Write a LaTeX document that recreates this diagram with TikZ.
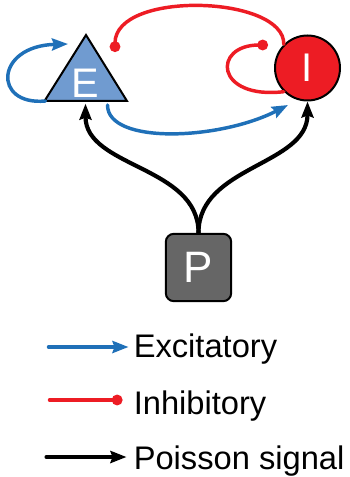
\documentclass[tikz,border=0pt]{standalone}
\usepackage{fontspec}
\setmainfont{Liberation Sans}
\usepackage{tikz}
\usetikzlibrary{arrows.meta}
\usepackage{xcolor}
\definecolor{excblue}{HTML}{1F70B8}
\definecolor{popblue}{HTML}{709BD0}
\definecolor{inhred}{HTML}{ED1C24}
\definecolor{boxgray}{HTML}{666666}

\begin{document}
\begin{tikzpicture}[x=0.75pt,y=-0.75pt,line cap=round,
  >={Stealth[length=12pt,width=9pt,inset=1.5pt]},
  excite/.style={excblue,line width=2.6pt},
  inhib/.style={inhred,line width=2.6pt,-{Circle[length=8pt]}},
  poisson/.style={black,line width=3.1pt},
  legend/.style={inner sep=0pt,font=\fontsize{24.5}{28}\selectfont}]
\useasboundingbox (0,0) rectangle (349,477);
% excitatory population: triangle corners
\coordinate (Etop) at (86,35);
\coordinate (Eleft) at (44.5,101);
\coordinate (Eright) at (127,101);
\coordinate (Ebase) at (85.5,101);
\draw[line width=1.5pt,line join=miter,fill=popblue] (Etop) -- (Eleft) -- (Eright) -- cycle;
\node[text=white,inner sep=0pt,font=\fontsize{31}{31}\selectfont] (E) at (85,83) {E};
% inhibitory population and input
\node[circle,draw,line width=1.5pt,fill=inhred,minimum size=48.75pt,inner sep=0pt,
  text=white,font=\fontsize{30}{30}\selectfont] (I) at (307.5,68) {I};
\node[rectangle,rounded corners=6pt,draw,line width=1.5pt,fill=boxgray,
  minimum width=49pt,minimum height=50.5pt,text=white,
  font=\fontsize{33}{33}\selectfont] (P) at (198.5,267.5) {P};
% recurrent and cross connections
\draw[excite,->] ([shift={(1,0)}]Eleft) .. controls +(-53,5) and +(-73,2) .. ([shift={(-17.5,-57)}]Ebase);
\draw[excite,->] ([shift={(22,4)}]Ebase) .. controls +(0,40) and +(-68,35) .. ([shift={(-19.5,3.5)}]I.south);
\draw[inhib] (I.135) .. controls +(1,-49) and +(0,-62) .. ([shift={(29.5,-49)}]Ebase);
\draw[inhib] (I.225) .. controls +(-69,8) and +(-56,0) .. ([shift={(-39.5,-23)}]I.center);
% external drive
\draw[poisson,->] (P.north) .. controls +(0,-67) and +(0,64) .. ([yshift=-2pt]Ebase);
\draw[poisson,->] (P.north) .. controls +(0,-67) and +(0,64) .. (I.south);
% legend
\node[legend,anchor=base west] (lexc) at (133.5,357) {Excitatory};
\node[legend,anchor=base west] (linh) at (133.5,414) {Inhibitory};
\node[legend,anchor=base west] (lpois) at (133.5,469) {Poisson signal};
\draw[excite,->] ([shift={(-85,-10)}]lexc.base west) -- ([shift={(-5,-10)}]lexc.base west);
\draw[inhib] ([shift={(-84,-14)}]linh.base west) -- ([shift={(-11,-14)}]linh.base west);
\draw[poisson,->] ([shift={(-87,-12)}]lpois.base west) -- ([shift={(-7,-12)}]lpois.base west);
\end{tikzpicture}
\end{document}
